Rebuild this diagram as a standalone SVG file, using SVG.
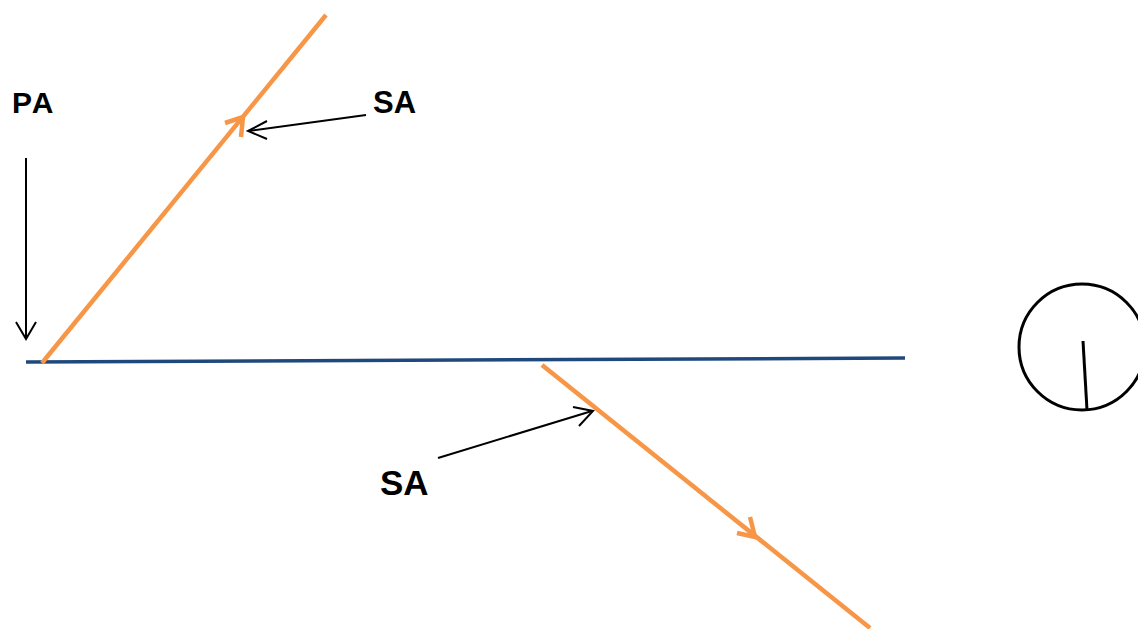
<svg xmlns="http://www.w3.org/2000/svg" width="1138" height="629" viewBox="0 0 1138 629">
  <style>
    .ray { stroke: #f79646; stroke-width: 4.5; fill: none; stroke-linecap: butt; }
    .pointer { stroke: #000; stroke-width: 2; fill: none; }
    .label { font-family: "Liberation Sans", Arial, sans-serif; font-weight: bold; fill: #000; }
  </style>
  <rect width="1138" height="629" fill="#fff"/>

  <!-- surface -->
  <g id="surface">
    <line x1="26" y1="362" x2="905" y2="358" stroke="#1f497d" stroke-width="3.5"/>
  </g>

  <!-- rays -->
  <g id="ray-up">
    <line class="ray" x1="42" y1="363" x2="326" y2="15"/>
    <polyline class="ray" stroke-width="3.5" points="225,123 243,117 241,137"/>
  </g>
  <g id="ray-down">
    <line class="ray" x1="542" y1="365" x2="870" y2="628"/>
    <polyline class="ray" stroke-width="3.5" points="737,533 755,537 750,517"/>
  </g>

  <!-- dial -->
  <g id="dial">
    <circle cx="1082" cy="347" r="63" fill="none" stroke="#000" stroke-width="3"/>
    <line x1="1083" y1="341" x2="1087" y2="410" stroke="#000" stroke-width="3"/>
  </g>

  <!-- labels -->
  <g id="label-pa">
    <text class="label" x="12" y="113" font-size="30" letter-spacing="2">PA</text>
  </g>
  <g id="label-sa-top">
    <text class="label" x="373" y="113" font-size="31">SA</text>
  </g>
  <g id="label-sa-bottom">
    <text class="label" x="380" y="495" font-size="35">SA</text>
  </g>

  <!-- connectors -->
  <g id="connectors">
    <line class="pointer" x1="26" y1="158" x2="26" y2="338"/>
    <polyline class="pointer" points="16,322 26,339 36,322"/>
    <line class="pointer" x1="366" y1="115" x2="248" y2="131"/>
    <polyline class="pointer" points="267,121 248,131 267,139"/>
    <line class="pointer" x1="438" y1="458" x2="592" y2="411"/>
    <polyline class="pointer" points="573,407 593,411 579,426"/>
  </g>
</svg>
